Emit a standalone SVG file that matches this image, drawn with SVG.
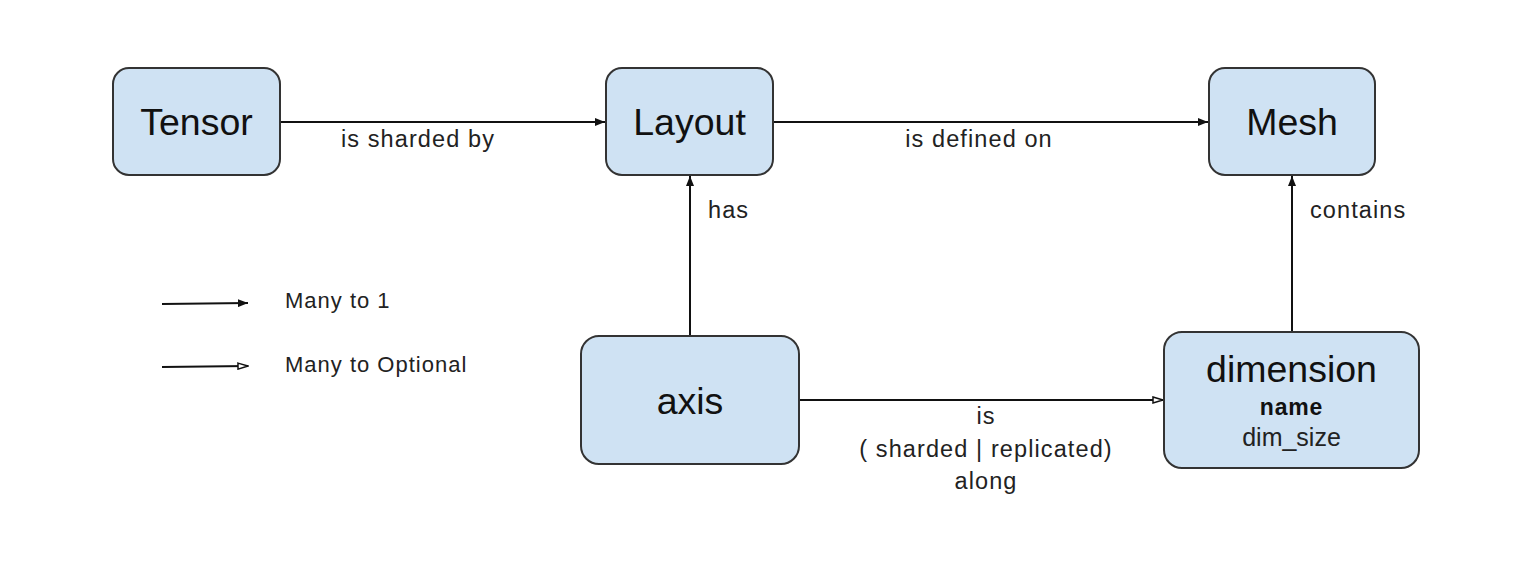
<svg xmlns="http://www.w3.org/2000/svg" width="1514" height="580" viewBox="0 0 1514 580">
<style>
.box{fill:#cfe2f3;stroke:#333;stroke-width:2}
.nt{font-family:"Liberation Sans",Arial,sans-serif;font-size:37.5px;fill:#111;text-anchor:middle}
.lb{font-family:"Liberation Sans",Arial,sans-serif;font-size:23.5px;fill:#222;letter-spacing:1.1px}
.lg{font-family:"Liberation Sans",Arial,sans-serif;font-size:22px;fill:#222;letter-spacing:1px}
.c{stroke:#111;stroke-width:2;fill:none}
</style>
<defs>
<marker id="fa" viewBox="0 0 10 8" refX="10" refY="4" markerWidth="10" markerHeight="8" markerUnits="userSpaceOnUse" orient="auto">
<path d="M0,0 L10,4 L0,8 Z" fill="#111"/>
</marker>
<marker id="oa" viewBox="0 0 12 8" refX="11" refY="4" markerWidth="12" markerHeight="8" markerUnits="userSpaceOnUse" orient="auto">
<path d="M1,1 L11,4 L1,7 Z" fill="#fff" stroke="#111" stroke-width="1.5"/>
</marker>
</defs>
<rect width="1514" height="580" fill="#fff"/>
<g id="connectors">
<line class="c" x1="280" y1="122" x2="605" y2="122" marker-end="url(#fa)"/>
<text class="lb" x="418" y="147" text-anchor="middle">is sharded by</text>
<line class="c" x1="773" y1="122" x2="1208" y2="122" marker-end="url(#fa)"/>
<text class="lb" x="979" y="147" text-anchor="middle">is defined on</text>
<line class="c" x1="690" y1="336" x2="690" y2="176" marker-end="url(#fa)"/>
<text class="lb" x="708" y="218">has</text>
<line class="c" x1="1292" y1="332" x2="1292" y2="176" marker-end="url(#fa)"/>
<text class="lb" x="1310" y="218">contains</text>
<line class="c" x1="799" y1="400" x2="1163" y2="400" marker-end="url(#oa)"/>
<text class="lb" x="986" y="424" text-anchor="middle">is</text>
<text class="lb" x="986" y="457" text-anchor="middle">( sharded | replicated)</text>
<text class="lb" x="986" y="489" text-anchor="middle">along</text>
</g>
<g id="legend">
<line class="c" x1="162" y1="304" x2="248" y2="303" marker-end="url(#fa)"/>
<text class="lg" x="285" y="308">Many to 1</text>
<line class="c" x1="162" y1="367" x2="248" y2="366" marker-end="url(#oa)"/>
<text class="lg" x="285" y="372">Many to Optional</text>
</g>
<g id="tensor">
<rect class="box" x="113" y="68" width="167" height="107" rx="16"/>
<text class="nt" x="196.5" y="135">Tensor</text>
</g>
<g id="layout">
<rect class="box" x="606" y="68" width="167" height="107" rx="16"/>
<text class="nt" x="689.5" y="135">Layout</text>
</g>
<g id="mesh">
<rect class="box" x="1209" y="68" width="166" height="107" rx="16"/>
<text class="nt" x="1292" y="135">Mesh</text>
</g>
<g id="axis">
<rect class="box" x="581" y="336" width="218" height="128" rx="18"/>
<text class="nt" x="690" y="414">axis</text>
</g>
<g id="dimension">
<rect class="box" x="1164" y="332" width="255" height="136" rx="18"/>
<text class="nt" x="1291.5" y="382">dimension</text>
<text class="nt" x="1291.5" y="415" style="font-size:23px;font-weight:bold;letter-spacing:0.8px">name</text>
<text class="nt" x="1291.5" y="446" style="font-size:25px;fill:#222">dim_size</text>
</g>
</svg>
